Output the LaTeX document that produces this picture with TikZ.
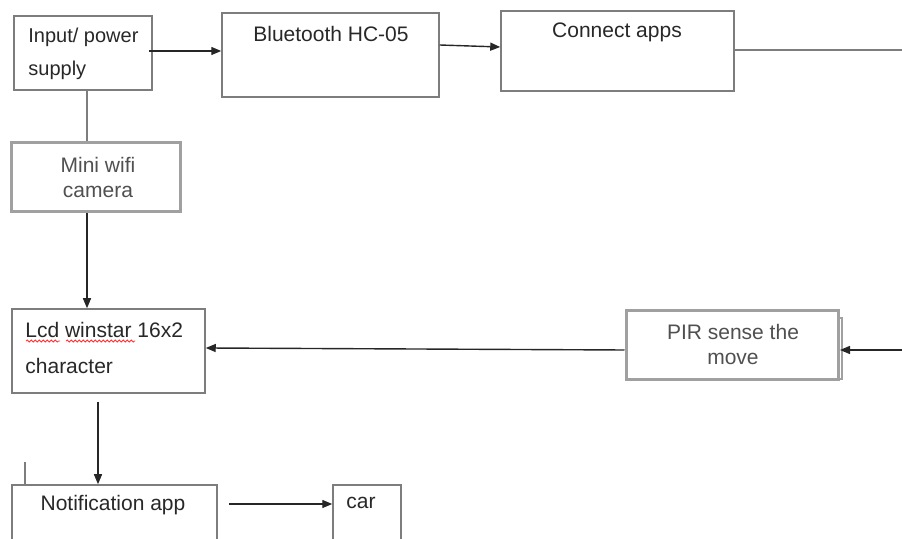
\documentclass[tikz,border=0pt]{standalone}
\usepackage{fontspec}
\setmainfont{Liberation Sans}
\usetikzlibrary{arrows.meta,calc,decorations.pathmorphing}
\definecolor{boxline}{RGB}{125,125,125}
\definecolor{thickline}{RGB}{160,160,160}
\definecolor{txt}{RGB}{40,40,40}
\definecolor{txtlight}{RGB}{80,80,80}
\tikzset{
  px/.style={x=0.5pt,y=-0.5pt},
  thinbox/.style={draw=boxline,line width=0.75pt,fill=white},
  thickbox/.style={draw=thickline,line width=1.5pt,fill=white},
  lbl/.style={text=txt,inner sep=0pt,font=\fontsize{10.5}{12}\selectfont},
  lbllight/.style={text=txtlight,inner sep=0pt,font=\fontsize{10.5}{12}\selectfont},
  arr/.style={draw=black!85,line width=0.7pt,-{Triangle[length=5pt,width=4pt]}},
  plain/.style={draw=boxline,line width=0.8pt},
  squig/.style={draw=red!80,line width=0.4pt,decorate,decoration={snake,amplitude=0.5pt,segment length=2pt}}
}
\begin{document}
\begin{tikzpicture}[px]
\useasboundingbox (0,0) rectangle (902,539);
% boxes
\path[thinbox] (14,16) rectangle (152,90) node[pos=0.5,inner sep=0pt,minimum width=69pt,minimum height=37pt] (in) {};
\path[thinbox] (222,13) rectangle (439,97) node[pos=0.5,inner sep=0pt,minimum width=108.5pt,minimum height=42pt] (bt) {};
\path[thinbox] (501,11) rectangle (734,91) node[pos=0.5,inner sep=0pt,minimum width=116.5pt,minimum height=40pt] (cn) {};
\path[thickbox] (11,143) rectangle (180,212) node[pos=0.5,inner sep=0pt,minimum width=84.5pt,minimum height=34.5pt] (mw) {};
\path[thinbox] (12,309) rectangle (205,393) node[pos=0.5,inner sep=0pt,minimum width=96.5pt,minimum height=42pt] (lcd) {};
\draw[draw=thickline,line width=1pt] (838,318) -- (842,318) -- (842,379) -- (838,379);
\path[thickbox] (626,311) rectangle (838,380) node[pos=0.5,inner sep=0pt,minimum width=106pt,minimum height=34.5pt] (pir) {};
\path[thinbox] (12,485) rectangle (217,560) node[pos=0.5,inner sep=0pt,minimum width=102.5pt,minimum height=37.5pt] (nt) {};
\path[thinbox] (333,485) rectangle (401,560) node[pos=0.5,inner sep=0pt,minimum width=34pt,minimum height=37.5pt] (car) {};
% texts
\node[lbl,anchor=base west,font=\fontsize{10}{12}\selectfont] (t1) at (28,43) {Input/ power};
\node[lbl,anchor=base west,font=\fontsize{10}{12}\selectfont] (t2) at (28,76) {supply};
\node[lbl] (t3) at (331,34) {Bluetooth HC-05};
\node[lbl] (t4) at (617,32) {Connect apps};
\node[lbllight,anchor=base] (t5) at (98,173) {Mini wifi};
\node[lbllight,anchor=base] (t6) at (98,198) {camera};
\node[lbl,anchor=west] (t7) at (25,330) {Lcd winstar 16x2};
\node[lbl,anchor=west] (t8) at (25,366) {character};
\node[lbllight,anchor=base] (t9) at (733,340) {PIR sense the};
\node[lbllight,anchor=base] (t10) at (733,365) {move};
\node[lbl] (t11) at (113,505) {Notification app};
\node[lbl,anchor=west] (t12) at (346,503) {car};
% squiggles
\draw[squig] (26,341) -- (60,341);
\draw[squig] (66,341) -- (135,341);
% connectors
\coordinate (rA) at (902,50);
\coordinate (rB) at (902,350);
\coordinate (gA) at (229,504);
\coordinate (stub1) at (25,462);
\draw[arr] ($(in.east)+(-4,-2)$) -- (bt.west |- 0,51);
\draw[arr] (bt.east |- 0,45) -- (cn.west |- 0,47);
\draw[plain] (cn.east |- 0,50) -- (rA);
\draw[plain] (in.south -| 87,0) -- (mw.north -| 87,0);
\draw[arr] (mw.south -| 87,0) -- (lcd.north -| 87,0);
\draw[arr] (pir.west |- 0,350) -- (lcd.east |- 0,348);
\draw[arr] (rB) -- (840,350);
\draw[arr] ($(lcd.south -| 98,0)+(0,8)$) -- (nt.north -| 98,0);
\draw[plain] (stub1) -- (nt.north -| stub1);
\draw[arr] (gA) -- (car.west |- gA);
\end{tikzpicture}
\end{document}
